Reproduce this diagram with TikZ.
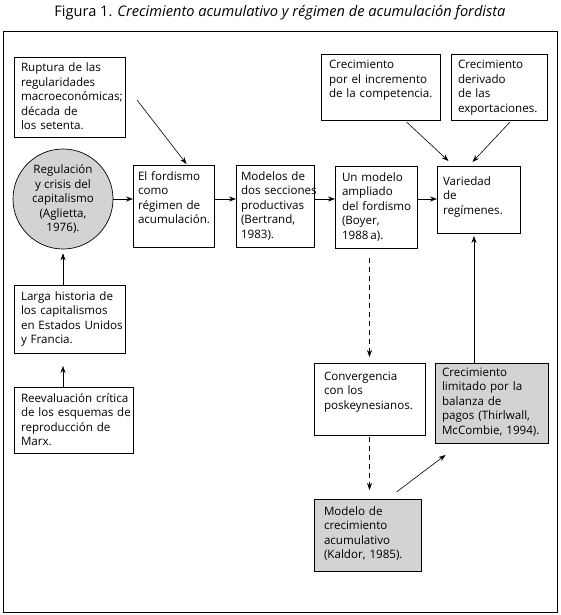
\documentclass[tikz,border=0pt]{standalone}
\usepackage{fontspec}
\setmainfont{Open Sans}
\usetikzlibrary{arrows.meta}
\definecolor{gris}{RGB}{211,211,211}
\hyphenpenalty=10000

\begin{document}
\begin{tikzpicture}[x=1pt, y=-1pt,
    font=\fontsize{11.6}{14.5}\selectfont,
    caja/.style={draw, line width=0.7pt, anchor=north west, inner xsep=7pt,
      inner ysep=0pt, outer sep=0pt, text height=15pt,
      execute at begin node={\rightskip=0pt plus 1fil minus 30pt}},
    sombreada/.style={caja, fill=gris},
    flecha/.style={-{Stealth[length=7pt,width=5pt]}, line width=0.6pt},
    punteada/.style={flecha, dash pattern=on 5pt off 4pt}]
    \useasboundingbox (0,0) rectangle (560,615);

    % Title and frame
    \node[font=\fontsize{14.6}{16}\selectfont] (titulo) at (280,13)
      {Figura 1. \textit{Crecimiento acumulativo y régimen de acumulación fordista}};
    \draw[line width=0.8pt] (3,31) rectangle (557,612);

    % Left column
    \node[caja, text width=97pt, text depth=65pt] (ruptura) at (14,57)
      {Ruptura de las\\regularidades\\macroeconómicas;\\década de\\los setenta.};
    \node[circle, draw, fill=gris, line width=0.7pt, minimum size=100pt,
      inner sep=0pt, align=center] (regulacion) at (63,199)
      {Regulación\\y crisis del\\capitalismo\\(Aglietta,\\1976).};
    \node[caja, text width=97pt, text depth=53pt] (larga) at (14,285)
      {Larga historia de\\los capitalismos\\en Estados Unidos\\y Francia.};
    \node[caja, text width=105pt, text depth=51pt] (reevaluacion) at (14,387)
      {Reevaluación crítica\\de los esquemas de\\reproducción de\\Marx.};

    % Middle row
    \node[caja, inner xsep=5pt, text width=71pt, text depth=67pt] (fordismo) at (133,165)
      {El fordismo\\como\\régimen de\\acumulación.};
    \node[caja, inner xsep=5pt, text width=68pt, text depth=67pt] (modelos) at (236,165)
      {Modelos de\\dos secciones\\productivas\\(Bertrand,\\1983).};
    \node[caja, text width=68pt, text depth=67pt] (boyer) at (335,166)
      {Un modelo\\ampliado\\del fordismo\\(Boyer,\\1988\,a).};
    \node[caja, inner xsep=6pt, text width=71pt, text height=19pt, text depth=48pt] (variedad) at (437,166)
      {Variedad\\de\\regímenes.};

    % Top right
    \node[caja, inner xsep=8pt, text width=103pt, text depth=51pt] (competencia) at (321,54)
      {Crecimiento\\por el incremento\\de la competencia.};
    \node[caja, text width=82pt, text depth=51pt] (exportaciones) at (451,54)
      {Crecimiento\\derivado\\de las\\exportaciones.};

    % Bottom right
    \node[caja, inner xsep=10pt, text width=91pt, text height=17pt, text depth=55pt] (convergencia) at (314,363)
      {Convergencia\\con los\\poskeynesianos.};
    \node[sombreada, text width=99pt, text height=13pt, text depth=67pt] (limitado) at (435,363)
      {Crecimiento\\limitado por la\\balanza de\\pagos (Thirlwall,\\McCombie, 1994).};
    \node[sombreada, inner xsep=10pt, text width=87pt, text height=16pt, text depth=56pt] (kaldor) at (314,499)
      {Modelo de\\crecimiento\\acumulativo\\(Kaldor, 1985).};

    % Connectors
    \draw[flecha] ([xshift=12pt,yshift=-3pt]ruptura.east) -- ([xshift=13pt,yshift=1pt]fordismo.north);
    \draw[flecha] (regulacion) -- (regulacion -| fordismo.west);
    \draw[flecha] (fordismo.east |- regulacion) -- (modelos.west |- regulacion);
    \draw[flecha] (modelos.east |- regulacion) -- (boyer.west |- regulacion);
    \draw[flecha] (boyer.east |- regulacion) -- (variedad.west |- regulacion);
    \draw[flecha] ([xshift=26pt,yshift=-2pt]competencia.south) -- ([xshift=-30pt,yshift=5pt]variedad.north);
    \draw[flecha] ([xshift=11pt,yshift=-2pt]exportaciones.south) -- ([xshift=-6pt,yshift=4pt]variedad.north);
    \draw[punteada, shorten <=10pt, shorten >=6pt] (convergencia.north |- boyer.south) -- (convergencia.north);
    \draw[punteada, shorten <=2pt, shorten >=9pt] (convergencia.south) -- (convergencia.south |- kaldor.north);
    \draw[flecha, shorten >=3pt] ([xshift=-17.5pt]limitado.north) -- ([xshift=-17.5pt]limitado.north |- variedad.south);
    \draw[flecha] ([xshift=29pt,yshift=7pt]kaldor.north) -- ([xshift=-46pt,yshift=-12pt]limitado.south);
    \draw[flecha, shorten >=4pt] (regulacion.south |- larga.north) -- (regulacion.south);
    \draw[flecha, shorten >=13pt] (regulacion.south |- reevaluacion.north) -- (regulacion.south |- larga.south);
\end{tikzpicture}
\end{document}
